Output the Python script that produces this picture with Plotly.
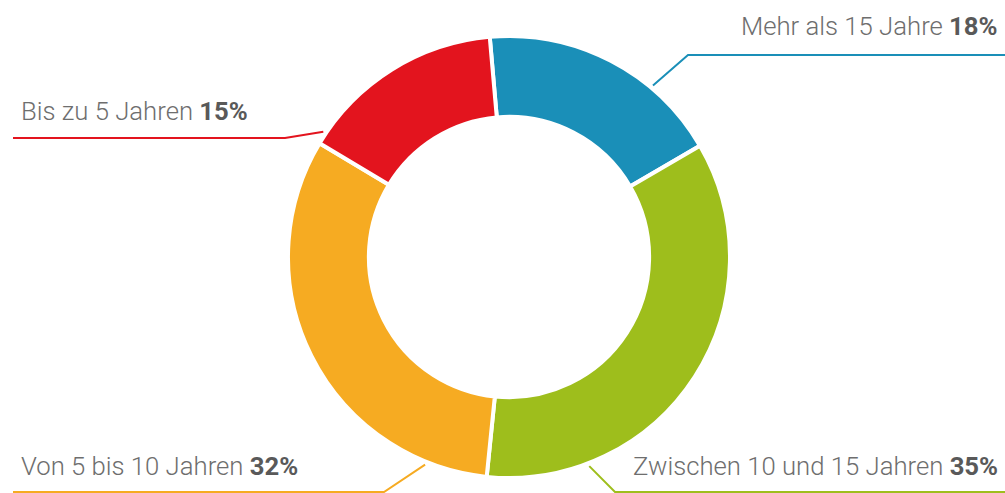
import math
import plotly.graph_objects as go

# ---- data ----
categories = ["Mehr als 15 Jahre", "Zwischen 10 und 15 Jahren", "Von 5 bis 10 Jahren", "Bis zu 5 Jahren"]
values = [18, 35, 32, 15]
colors = ["#1a8fb8", "#9ebe1c", "#f6ab22", "#e3141e"]

# ---- layout / style ----
W, H = 1005, 493
CX, CY, R = 509, 257, 221          # donut centre / radius in pixels
HOLE = 0.634
ROTATION = -5

# label placement per slice: anchor angle (deg clockwise from 12 o'clock), elbow point, side
label_cfg = [
    dict(angle=40, elbow=(688, 55), side="right", text_y=26),
    dict(angle=159, elbow=(615, 492), side="right", text_y=466),
    dict(angle=202, elbow=(384, 492), side="left", text_y=466),
    dict(angle=304, elbow=(285, 138), side="left", text_y=111),
]

def px(x):
    return x / W

def py(y):
    return 1 - y / H

fig = go.Figure(go.Pie(
    labels=categories,
    values=values,
    hole=HOLE,
    sort=False,
    direction="clockwise",
    rotation=ROTATION,
    marker=dict(colors=colors, line=dict(color="white", width=4)),
    textinfo="none",
    hoverinfo="label+percent",
    domain=dict(x=[px(CX - R), px(CX + R)], y=[py(CY + R), py(CY - R)]),
    showlegend=False,
))

shapes = []
annotations = []
for cat, val, col, cfg in zip(categories, values, colors, label_cfg):
    a = math.radians(cfg["angle"])
    r0 = R + 3
    sx, sy = CX + r0 * math.sin(a), CY - r0 * math.cos(a)
    ex, ey = cfg["elbow"]
    endx = W if cfg["side"] == "right" else 13
    shapes.append(dict(type="path", xref="paper", yref="paper",
                       path=f"M {px(sx)},{py(sy)} L {px(ex)},{py(ey)} L {px(endx)},{py(ey)}",
                       line=dict(color=col, width=2)))
    text = f"{cat} <b style='color:#595959'>{val}%</b>"
    if cfg["side"] == "right":
        annotations.append(dict(x=px(1000), xanchor="right", y=py(cfg["text_y"]), yanchor="middle",
                                xref="paper", yref="paper", showarrow=False, text=text))
    else:
        annotations.append(dict(x=px(19), xanchor="left", y=py(cfg["text_y"]), yanchor="middle",
                                xref="paper", yref="paper", showarrow=False, text=text))

fig.update_layout(
    width=W, height=H,
    margin=dict(l=0, r=0, t=0, b=0),
    paper_bgcolor="white", plot_bgcolor="white",
    font=dict(family="Roboto", size=25.7, color="#6e6e6e", weight=300),
    shapes=shapes,
    annotations=annotations,
)

fig.write_html("out.html", config={"displayModeBar": False},
               post_script="document.body.style.margin='0';document.body.style.overflow='hidden';")
